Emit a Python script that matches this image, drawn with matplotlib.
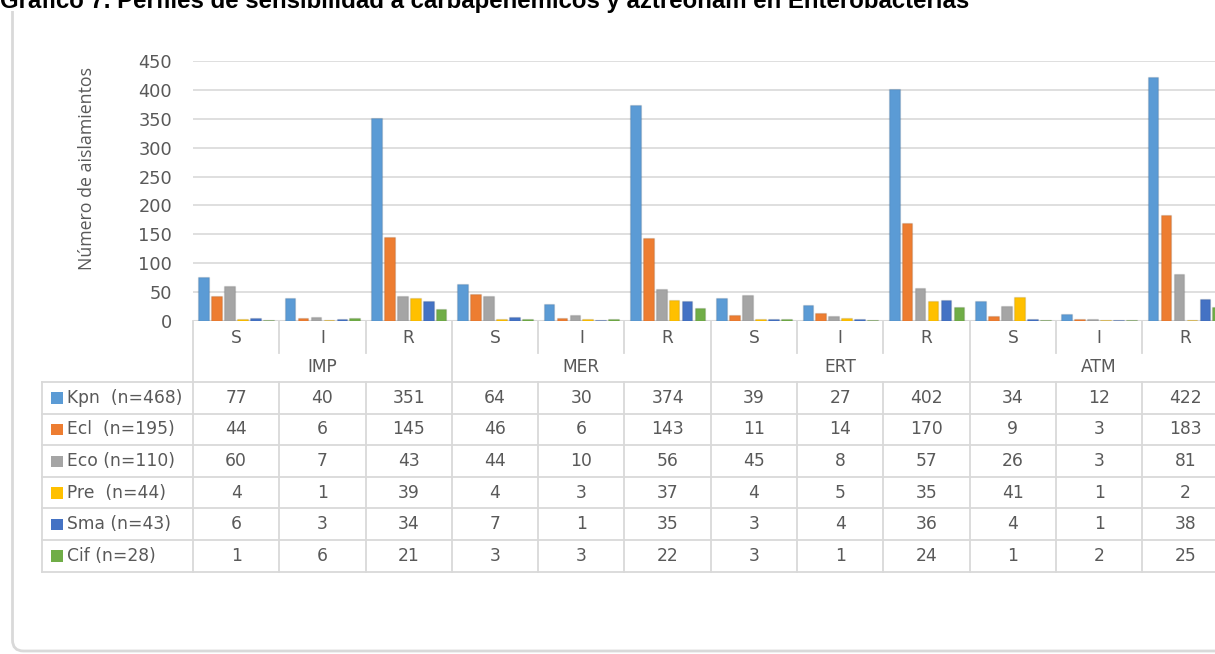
import matplotlib
matplotlib.use("Agg")
import matplotlib.pyplot as plt
from matplotlib.transforms import blended_transform_factory
from matplotlib.path import Path
from matplotlib.patches import PathPatch, Rectangle
import numpy as np

# ---- data -------------------------------------------------------------
drugs = ["IMP", "MER", "ERT", "ATM"]
profiles = ["S", "I", "R"]
species = ["Kpn  (n=468)", "Ecl  (n=195)", "Eco (n=110)",
           "Pre  (n=44)", "Sma (n=43)", "Cif (n=28)"]
colors = ["#5B9BD5", "#ED7D31", "#A5A5A5", "#FFC000", "#4472C4", "#70AD47"]

kpn = [77, 40, 351, 64, 30, 374, 39, 27, 402, 34, 12, 422]
ecl = [44, 6, 145, 46, 6, 143, 11, 14, 170, 9, 3, 183]
eco = [60, 7, 43, 44, 10, 56, 45, 8, 57, 26, 3, 81]
pre = [4, 1, 39, 4, 3, 37, 4, 5, 35, 41, 1, 2]
sma = [6, 3, 34, 7, 1, 35, 3, 4, 36, 4, 1, 38]
cif = [1, 6, 21, 3, 3, 22, 3, 1, 24, 1, 2, 25]
series = [kpn, ecl, eco, pre, sma, cif]

yticks = [0, 50, 100, 150, 200, 250, 300, 350, 400, 450]
title = "Gráfico 7. Perfiles de sensibilidad a carbapenémicos y aztreonam en Enterobacterias"
ylabel = "Número de aislamientos"

# ---- layout (pixels) -------------------------------------------------
W, H = 1215, 654
FONT = "DejaVu Sans"
FS = 12.3
TXT = "#595959"
GRID = "#d9d9d9"

plot_left, cat_w = 193.0, 86.3
n_cat = len(drugs) * len(profiles)
plot_right = plot_left + n_cat * cat_w
y_base, y_top = 321.0, 61.0

fig = plt.figure(figsize=(W / 100, H / 100), dpi=100)
fig.patch.set_facecolor("white")

# overlay in pixel coordinates for frame, table grid and labels
over = fig.add_axes([0, 0, 1, 1])
over.set_xlim(0, W)
over.set_ylim(H, 0)
over.axis("off")

ax = fig.add_axes([plot_left / W, (H - y_base) / H,
                   (plot_right - plot_left) / W, (y_base - y_top) / H])
ax.set_xlim(-0.5, n_cat - 0.5)
ax.set_ylim(0, 450)
ax.set_facecolor("none")
for s in ax.spines.values():
    s.set_visible(False)
ax.set_yticks(yticks)
ax.set_yticklabels([str(v) for v in yticks], fontfamily=FONT, fontsize=12.8, color=TXT)
ax.tick_params(axis="y", length=0, pad=15)
ax.set_xticks([])
ax.grid(axis="y", color=GRID, linewidth=1.2)
ax.set_axisbelow(True)
ax.axhline(0, color=GRID, linewidth=1.5, zorder=1)

x = np.arange(n_cat)
step, bw = 0.15, 0.124
for i, (vals, c) in enumerate(zip(series, colors)):
    ax.bar(x + (i - 2.5) * step, vals, width=bw, color=c, zorder=3,
           edgecolor="#00000018", linewidth=1.0)

fig.text(87 / W, 1 - 168 / H, ylabel, rotation=90, ha="center", va="center",
         fontfamily="Open Sans", fontsize=12.8, color=TXT)

# ---- table below the axis ------------------------------------------
tr = blended_transform_factory(ax.transData, over.transData)
edges = np.arange(n_cat + 1) - 0.5
row_top = 382.0
row_h = 31.6
n_rows = len(species)
row_bot = row_top + n_rows * row_h
tbl_left = 42.0

line_kw = dict(color=GRID, linewidth=1.3, clip_on=False)
# vertical separators
for k, e in enumerate(edges):
    if k % 3 == 0:
        over.plot([e, e], [y_base, row_bot], transform=tr, **line_kw)
    else:
        over.plot([e, e], [y_base, 353], transform=tr, **line_kw)
        over.plot([e, e], [row_top, row_bot], transform=tr, **line_kw)
over.plot([tbl_left, tbl_left], [row_top, row_bot], **line_kw)
# horizontal rules
for r in range(n_rows + 1):
    yy = row_top + r * row_h
    over.plot([tbl_left, W + 20], [yy, yy], **line_kw)

# profile and drug labels
for k in range(n_cat):
    over.text(k, 338, profiles[k % 3], transform=tr, ha="center", va="center",
              fontfamily=FONT, fontsize=FS, color=TXT)
for g, d in enumerate(drugs):
    over.text(g * 3 + 1, 367, d, transform=tr, ha="center", va="center",
              fontfamily=FONT, fontsize=FS, color=TXT)

# rows: legend key + values
for r, (name, vals, c) in enumerate(zip(species, series, colors)):
    yc = row_top + (r + 0.5) * row_h
    over.add_patch(Rectangle((51, yc - 5.5), 11.5, 11.5, facecolor=c,
                             edgecolor="none"))
    over.text(67, yc, name, ha="left", va="center",
              fontfamily=FONT, fontsize=FS, color=TXT)
    for k, v in enumerate(vals):
        over.text(k, yc, str(v), transform=tr, ha="center", va="center",
                  fontfamily=FONT, fontsize=FS, color=TXT)

# ---- rounded frame (left and bottom edges) ---------------------------
rad = 11
fx0, fy_top, fy_bot = 12.5, 11, 651
verts = [(fx0, fy_top), (fx0, fy_bot - rad), (fx0, fy_bot),
         (fx0 + rad, fy_bot), (W + 20, fy_bot)]
codes = [Path.MOVETO, Path.LINETO, Path.CURVE3, Path.CURVE3, Path.LINETO]
over.add_patch(PathPatch(Path(verts, codes), facecolor="none",
                         edgecolor=GRID, linewidth=2))

# ---- title -----------------------------------------------------------
over.text(0, 8, title, ha="left", va="baseline",
          fontfamily="Liberation Sans", fontweight="bold", fontsize=17.3,
          color="black")

fig.savefig("out.png", dpi=100)
